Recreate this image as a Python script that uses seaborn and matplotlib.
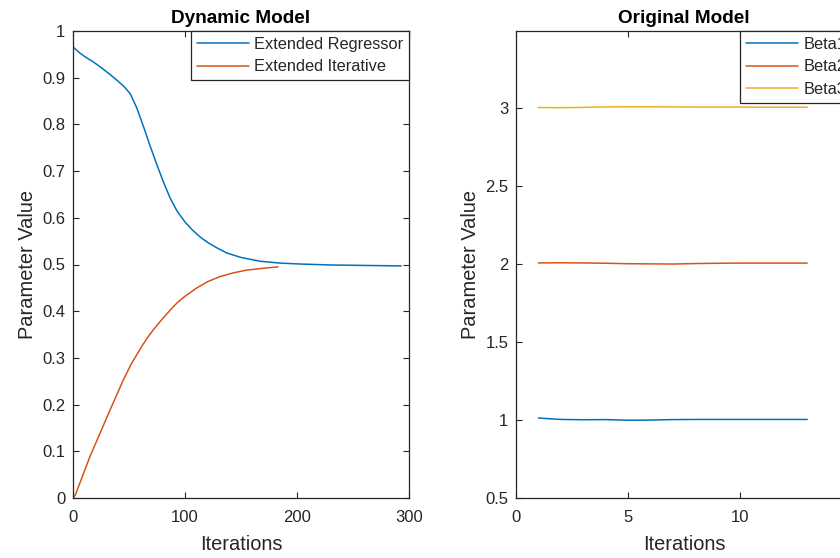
import matplotlib
matplotlib.use("Agg")
import matplotlib.pyplot as plt
import seaborn as sns
import pandas as pd

# ---- data ----
reg_x = [0, 5, 10, 18, 25, 33, 40, 46, 51, 57, 63, 69, 75, 81, 87, 93, 100, 107, 114, 121, 129, 137, 150, 167,
         185, 203, 230, 260, 293]
reg_y = [0.966, 0.955, 0.946, 0.934, 0.922, 0.907, 0.893, 0.880, 0.866, 0.835, 0.795, 0.753, 0.713, 0.675, 0.641,
         0.614, 0.591, 0.573, 0.558, 0.546, 0.535, 0.525, 0.515, 0.507, 0.503, 0.501, 0.499, 0.498, 0.497]
it_x = [0, 2, 15, 33, 45, 52, 57, 62, 67, 72, 80, 87, 93, 100, 110, 120, 131, 143, 155, 170, 183]
it_y = [0.0, 0.006, 0.088, 0.188, 0.253, 0.287, 0.307, 0.327, 0.345, 0.361, 0.384, 0.403, 0.418, 0.432, 0.449,
        0.463, 0.474, 0.482, 0.488, 0.492, 0.495]

iters = list(range(1, 14))
beta1 = [1.012, 1.003, 1.001, 1.002, 0.998, 0.999, 1.002, 1.003, 1.003, 1.003, 1.003, 1.003, 1.003]
beta2 = [2.005, 2.006, 2.005, 2.003, 2.000, 1.999, 1.998, 2.001, 2.003, 2.004, 2.004, 2.004, 2.004]
beta3 = [3.000, 2.999, 3.001, 3.004, 3.005, 3.005, 3.004, 3.003, 3.003, 3.003, 3.002, 3.002, 3.002]

left_xticks = [0, 100, 200, 300]
left_yticks = [0, 0.1, 0.2, 0.3, 0.4, 0.5, 0.6, 0.7, 0.8, 0.9, 1]
left_ylabels = ["0", "0.1", "0.2", "0.3", "0.4", "0.5", "0.6", "0.7", "0.8", "0.9", "1"]
right_xticks = [0, 5, 10]
right_yticks = [0.5, 1, 1.5, 2, 2.5, 3]
right_ylabels = ["0.5", "1", "1.5", "2", "2.5", "3"]

# ---- style ----
sns.set_style("white")
plt.rcParams['font.family'] = ['Liberation Sans', 'DejaVu Sans']
AX = "#262626"
C1, C2, C3 = "#0072BD", "#D95319", "#EDB120"

df_left = pd.concat([
    pd.DataFrame({"x": reg_x, "y": reg_y, "s": "Extended Regressor"}),
    pd.DataFrame({"x": it_x, "y": it_y, "s": "Extended Iterative"}),
])
df_right = pd.concat([
    pd.DataFrame({"x": iters, "y": beta1, "s": "Beta1"}),
    pd.DataFrame({"x": iters, "y": beta2, "s": "Beta2"}),
    pd.DataFrame({"x": iters, "y": beta3, "s": "Beta3"}),
])

fig = plt.figure(figsize=(8.4, 5.58), dpi=100)
ax1 = fig.add_axes([73 / 840, 60 / 558, 336 / 840, 467 / 558])
ax2 = fig.add_axes([516 / 840, 60 / 558, 336 / 840, 467 / 558])

sns.lineplot(data=df_left, x="x", y="y", hue="s", palette=[C1, C2], ax=ax1, linewidth=1.1, sort=False)
sns.lineplot(data=df_right, x="x", y="y", hue="s", palette=[C1, C2, C3], ax=ax2, linewidth=1.1, sort=False)


def style(ax, title, xlim, ylim, xt, yt, ylabs):
    ax.set_xlim(*xlim)
    ax.set_ylim(*ylim)
    ax.set_xticks(xt)
    ax.set_yticks(yt)
    ax.set_yticklabels(ylabs)
    ax.set_xlabel("Iterations", fontsize=14.4, color=AX, labelpad=7)
    ax.set_ylabel("Parameter Value", fontsize=14.4, color=AX, labelpad=4)
    ax.set_title(title, fontsize=13.7, fontweight="bold", color="black", pad=6)
    for sp in ax.spines.values():
        sp.set_visible(True)
        sp.set_color(AX)
        sp.set_linewidth(0.9)
    ax.tick_params(direction="in", length=4, width=0.8, color=AX, labelcolor=AX,
                   labelsize=12, top=True, right=True, bottom=True, left=True)
    ax.tick_params(axis="x", pad=9)
    ax.tick_params(axis="y", pad=5.5)
    leg = ax.legend(loc="upper right", borderaxespad=0, frameon=True, fancybox=False,
                    framealpha=1, edgecolor=AX, fontsize=11.8, handlelength=3.2,
                    handletextpad=0.3, labelspacing=0.47, borderpad=0.35)
    leg.get_frame().set_linewidth(0.9)
    for t in leg.get_texts():
        t.set_color(AX)


style(ax1, "Dynamic Model", (0, 300), (0, 1), left_xticks, left_yticks, left_ylabels)
style(ax2, "Original Model", (0, 15), (0.5, 3.49), right_xticks, right_yticks, right_ylabels)

fig.savefig("out.png", dpi=100)
